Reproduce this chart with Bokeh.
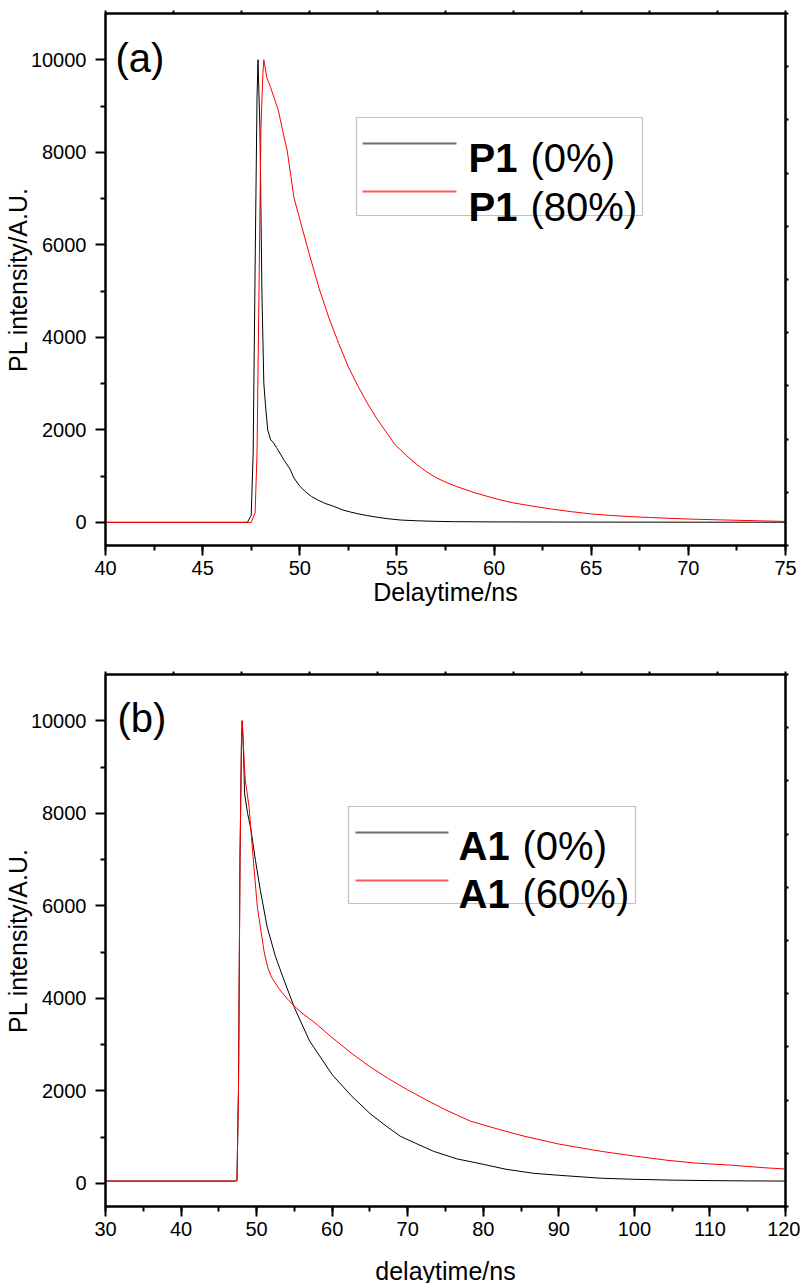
from bokeh.plotting import figure
from bokeh.layouts import column
from bokeh.models import (LinearAxis, FixedTicker, SingleIntervalTicker, Range1d,
                          Label, BoxAnnotation)
from bokeh.embed import file_html
from bokeh.resources import INLINE

FONT = "Liberation Sans"

# ---------------- Data ----------------
# Panel (a): P1
p1_0_t = [40, 45, 47.3, 47.5, 47.6, 47.7, 47.8, 47.85, 47.95, 48.05, 48.15, 48.25, 48.35,
          48.5, 48.6, 48.8, 49.0, 49.2, 49.5, 49.7, 50.0, 50.3, 50.6, 50.9, 51.3, 51.75,
          52.2, 52.6, 53.0, 53.5, 54.0, 54.5, 55.2, 56, 57, 58, 60, 63, 66, 70, 75]
p1_0_v = [0, 0, 0, 150, 1500, 5500, 9200, 10000, 8500, 5000, 3000, 2450, 2000,
          1780, 1750, 1620, 1480, 1340, 1150, 960, 780, 660, 560, 490, 410, 346,
          270, 224, 185, 144, 110, 80, 50, 35, 22, 15, 10, 7, 5, 4, 3]

p1_80_t = [40, 45, 47.5, 47.7, 47.8, 47.9, 48.0, 48.1, 48.15, 48.3, 48.5, 48.7, 48.9, 49.1,
           49.35, 49.7, 50.0, 50.5, 51, 51.5, 52, 52.5, 53, 53.5, 54, 54.5, 54.9, 55.5, 56,
           56.5, 57, 57.4, 58, 59, 60.2, 61, 62, 63, 64, 65, 66, 67, 68, 70, 72, 73.5, 75]
p1_80_v = [0, 0, 0, 200, 1500, 5000, 8500, 9700, 10000, 9620, 9400, 9150, 8900, 8500,
           8040, 7020, 6550, 5780, 5050, 4420, 3870, 3360, 2940, 2560, 2220, 1920, 1680, 1440, 1260,
           1100, 970, 890, 785, 640, 498, 420, 350, 285, 230, 182, 150, 125, 105, 72, 50, 35, 20]

# Panel (b): A1
a1_0_t = [30, 47.2, 47.4, 47.6, 47.8, 48.0, 48.1, 48.3, 48.4, 48.8, 49.2, 49.85, 50.5, 51.4,
          52.5, 53.5, 55, 57, 60, 62.5, 65, 67, 69, 71, 73.4, 76.5, 80, 83, 86.7, 90, 95.5,
          100, 105, 110, 115, 120]
a1_0_v = [50, 50, 60, 2000, 7000, 9600, 10000, 9150, 8440, 8000, 7700, 6980, 6330, 5540,
          4900, 4450, 3800, 3080, 2350, 1900, 1510, 1257, 1020, 870, 694, 530, 412, 305,
          217, 175, 112, 88, 70, 60, 53, 50]

a1_60_t = [30, 47.2, 47.4, 47.6, 47.8, 48.0, 48.1, 48.3, 48.5, 49.0, 49.6, 50.1, 50.5, 51.0,
           51.5, 52.0, 53.0, 54.0, 55.0, 56, 57.5, 60, 62.5, 65, 67.5, 70, 72.5, 75, 78.3,
           82, 85.4, 90, 95.5, 100, 104.3, 108, 113.1, 117, 120]
a1_60_v = [50, 50, 60, 2000, 7000, 9600, 10000, 9300, 8720, 8140, 6920, 5970, 5540, 5000,
           4650, 4450, 4200, 4000, 3830, 3680, 3500, 3150, 2820, 2520, 2260, 2020, 1800,
           1590, 1345, 1170, 1020, 850, 695, 590, 500, 440, 390, 340, 310]

y_major = [0, 2000, 4000, 6000, 8000, 10000]
y_minor = [1000, 3000, 5000, 7000, 9000]


def style_axis(ax, title_standoff):
    ax.axis_line_width = 2
    ax.axis_line_color = "black"
    ax.major_tick_line_width = 2
    ax.minor_tick_line_width = 2
    ax.major_tick_out = 10
    ax.major_tick_in = 0
    ax.minor_tick_out = 5
    ax.minor_tick_in = 0
    ax.major_label_text_font = FONT
    ax.major_label_text_font_size = "20px"
    ax.major_label_text_color = "black"
    ax.axis_label_text_font = FONT
    ax.axis_label_text_font_size = "25px"
    ax.axis_label_text_font_style = "normal"
    ax.axis_label_text_color = "black"
    ax.axis_label_standoff = title_standoff


def mirror_axis(ticks):
    # only minor ticks -> tick marks without any labels
    ax = LinearAxis(ticker=FixedTicker(ticks=[], minor_ticks=ticks))
    ax.axis_line_width = 2
    ax.minor_tick_line_width = 2
    ax.minor_tick_out = 3
    ax.minor_tick_in = 0
    ax.major_tick_out = 0
    ax.major_tick_in = 0
    ax.major_label_standoff = 0
    return ax


def make_panel(xr, xint, tag, xlabel, series, leg_name, leg_pcts, geom, top_b, bot_b, xstand):
    p = figure(frame_width=680, frame_height=532, output_backend="svg",
               toolbar_location=None, x_range=Range1d(*xr), y_range=Range1d(-500, 11000),
               min_border_left=105, min_border_right=15, min_border_top=top_b,
               min_border_bottom=bot_b, background_fill_color="white",
               border_fill_color="white")
    p.xgrid.visible = False
    p.ygrid.visible = False
    p.outline_line_color = "black"
    p.outline_line_width = 2

    p.xaxis.ticker = SingleIntervalTicker(interval=xint, num_minor_ticks=2)
    p.yaxis.ticker = FixedTicker(ticks=y_major, minor_ticks=y_minor)
    p.xaxis.axis_label = xlabel
    p.yaxis.axis_label = "PL intensity/A.U."
    style_axis(p.xaxis[0], xstand)
    style_axis(p.yaxis[0], -4)
    p.xaxis.major_label_standoff = 5
    p.yaxis.major_label_standoff = 9

    nx = [xr[0] + (xr[1] - xr[0]) * k / 10 for k in range(11)]
    ny = [-500 + 11500 * k / 10 for k in range(11)]
    p.add_layout(mirror_axis(nx), "above")
    p.add_layout(mirror_axis(ny), "right")

    colors = ["black", "#ff0000"]
    for (t, v), c in zip(series, colors):
        p.line(t, v, line_color=c, line_width=1)

    # panel tag
    p.add_layout(Label(x=geom["tag_x"], y=geom["tag_y"], x_units="screen", y_units="screen",
                       text=tag, text_font=FONT, text_font_size="40px",
                       text_baseline="alphabetic", text_color="black"))

    # legend (manual, mixed bold/normal text)
    bl, br, bt, bb = geom["box"]
    p.add_layout(BoxAnnotation(left=bl, right=br, top=bt, bottom=bb,
                               left_units="screen", right_units="screen",
                               top_units="screen", bottom_units="screen",
                               fill_color="white", fill_alpha=1.0,
                               line_color="#333333", line_width=1.2))
    lx0, lx1 = geom["line_x"]
    leg_cols = ["#6e6e6e", "#ff5a5a"]
    for i, (ly, tyb) in enumerate(zip(geom["line_y"], geom["text_y"])):
        p.add_layout(BoxAnnotation(left=lx0, right=lx1, top=ly + 0.9, bottom=ly - 0.9,
                                   left_units="screen", right_units="screen",
                                   top_units="screen", bottom_units="screen",
                                   fill_color=leg_cols[i], fill_alpha=1.0, line_color=None))
        p.add_layout(Label(x=geom["name_x"], y=tyb, x_units="screen", y_units="screen",
                           text=leg_name, text_font=FONT, text_font_size="40px",
                           text_font_style="bold", text_baseline="alphabetic",
                           text_color="black"))
        p.add_layout(Label(x=geom["pct_x"], y=tyb, x_units="screen", y_units="screen",
                           text=leg_pcts[i], text_font=FONT, text_font_size="40px",
                           text_baseline="alphabetic", text_color="black"))
    return p


geom_a = dict(tag_x=10, tag_y=488, box=(251, 537, 428, 330), line_x=(257, 351),
              line_y=(402, 354), text_y=(388, 339), name_x=363, pct_x=425)
geom_b = dict(tag_x=12, tag_y=489, box=(243, 530, 400, 303), line_x=(250, 343),
              line_y=(374, 326), text_y=(361, 313), name_x=353, pct_x=417)

pa = make_panel((40, 75), 5, "(a)", "Delaytime/ns",
                [(p1_0_t, p1_0_v), (p1_80_t, p1_80_v)], "P1", ["(0%)", "(80%)"],
                geom_a, 13, 75, 0)
pb = make_panel((30, 120), 10, "(b)", "delaytime/ns",
                [(a1_0_t, a1_0_v), (a1_60_t, a1_60_v)], "A1", ["(0%)", "(60%)"],
                geom_b, 54, 72, 18)

layout = column(pa, pb, spacing=0)
open("out.html", "w").write(file_html(layout, INLINE))
